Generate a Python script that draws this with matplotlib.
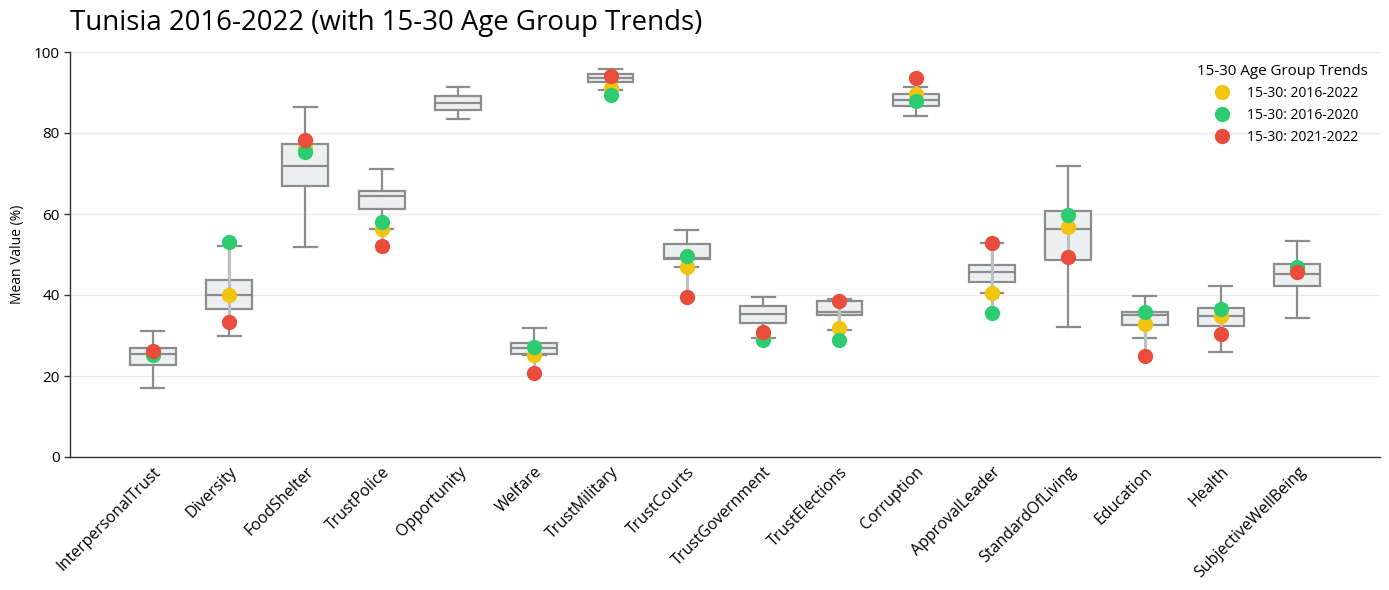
import numpy as np
import matplotlib
matplotlib.use("Agg")
import matplotlib.pyplot as plt
from matplotlib.lines import Line2D

plt.rcParams['font.family'] = ['Open Sans', 'DejaVu Sans']

categories = ["InterpersonalTrust", "Diversity", "FoodShelter", "TrustPolice", "Opportunity",
              "Welfare", "TrustMilitary", "TrustCourts", "TrustGovernment", "TrustElections",
              "Corruption", "ApprovalLeader", "StandardOfLiving", "Education", "Health",
              "SubjectiveWellBeing"]

q1 = [22.7, 36.5, 66.8, 61.2, 85.8, 25.4, 92.5, 49.0, 33.0, 35.1, 86.7, 43.2, 48.6, 32.6, 32.3, 42.2]
median = [25.5, 40.1, 71.9, 64.4, 87.3, 26.8, 93.5, 49.1, 35.4, 35.9, 88.2, 45.8, 56.3, 35.1, 34.9, 45.2]
q3 = [27.0, 43.7, 77.3, 65.7, 89.2, 28.2, 94.5, 52.7, 37.4, 38.4, 89.7, 47.5, 60.7, 35.8, 36.9, 47.7]
whislo = [17.1, 30.0, 51.9, 56.4, 83.5, 25.1, 90.7, 46.8, 29.5, 31.4, 84.3, 40.6, 32.2, 29.5, 26.0, 34.4]
whishi = [31.1, 52.2, 86.4, 71.2, 91.4, 31.9, 95.9, 56.0, 39.6, 39.1, 91.4, 52.8, 71.9, 39.8, 42.2, 53.3]

nan = np.nan
y_2016_2022 = [25.6, 40.1, 76.2, 56.2, nan, 25.3, 91.2, 46.8, 29.9, 31.8, 89.7, 40.5, 56.8, 32.8, 34.7, 46.0]
y_2016_2020 = [25.2, 53.0, 75.2, 58.1, nan, 27.2, 89.5, 49.6, 28.9, 28.8, 87.9, 35.6, 59.7, 35.7, 36.6, 47.0]
y_2021_2022 = [26.2, 33.4, 78.2, 52.2, nan, 20.7, 94.1, 39.4, 30.9, 38.5, 93.5, 52.8, 49.5, 25.0, 30.4, 45.6]

series_labels = ["15-30: 2016-2022", "15-30: 2016-2020", "15-30: 2021-2022"]
series_colors = ["#f1c40f", "#2ecc71", "#e74c3c"]

W, H = 1389, 590
fig = plt.figure(figsize=(W / 100, H / 100), dpi=100)
ax = fig.add_axes([70 / W, (H - 457) / H, 1310 / W, 405 / H])

pos = np.arange(len(categories))
stats = []
for i in range(len(categories)):
    stats.append(dict(med=median[i], q1=q1[i], q3=q3[i], whislo=whislo[i], whishi=whishi[i], fliers=[]))

edge = "#8c8c8c"
lw = 1.6
ax.bxp(stats, positions=pos, widths=0.6, patch_artist=True, showfliers=False,
       boxprops=dict(facecolor="#ecf0f1", edgecolor=edge, linewidth=lw),
       medianprops=dict(color=edge, linewidth=lw),
       whiskerprops=dict(color=edge, linewidth=lw),
       capprops=dict(color=edge, linewidth=lw),
       zorder=2)

series = [y_2016_2022, y_2016_2020, y_2021_2022]
arr = np.array(series, dtype=float)
for i in pos:
    col = arr[:, i]
    if np.all(np.isnan(col)):
        continue
    ax.plot([i, i], [np.nanmin(col), np.nanmax(col)], color="#b8c2c6", linewidth=2.2, zorder=3,
            solid_capstyle='butt')

for k, (vals, lab, c) in enumerate(zip(series, series_labels, series_colors)):
    ax.plot(pos, vals, linestyle='none', marker='o', markersize=11, color=c,
            markeredgewidth=0, label=lab, zorder=4 + k)

ax.set_xlim(-1.085, len(categories) - 1 + 1.085)
ax.set_ylim(0, 100)
ax.set_yticks([0, 20, 40, 60, 80, 100])
ax.set_xticks(pos)
ax.set_xticklabels(categories, rotation=45, ha='right', rotation_mode='anchor', fontsize=11.5)
ax.tick_params(axis='x', length=0, pad=5)
ax.tick_params(axis='y', labelsize=11, length=4, width=1, color="#333333", direction='out')
ax.yaxis.grid(True, color="#ebebeb", linewidth=1)
ax.set_axisbelow(True)
for s in ['top', 'right']:
    ax.spines[s].set_visible(False)
for s in ['left', 'bottom']:
    ax.spines[s].set_color("#333333")
    ax.spines[s].set_linewidth(1)
ax.set_ylabel("Mean Value (%)", fontsize=10, labelpad=6)

fig.text(70 / W, 1 - 23 / H, "Tunisia 2016-2022 (with 15-30 Age Group Trends)", fontsize=19.9,
         ha='left', va='center')

handles = [Line2D([], [], linestyle='none', marker='o', markersize=11, color=c, markeredgewidth=0)
           for c in series_colors]
leg = ax.legend(handles, series_labels, title="15-30 Age Group Trends", loc='upper right',
                frameon=False, fontsize=10, title_fontsize=10.9, handletextpad=0.8,
                labelspacing=0.5, bbox_to_anchor=(1.0, 1.0), borderaxespad=0.45)

fig.savefig("out.png", dpi=100)
